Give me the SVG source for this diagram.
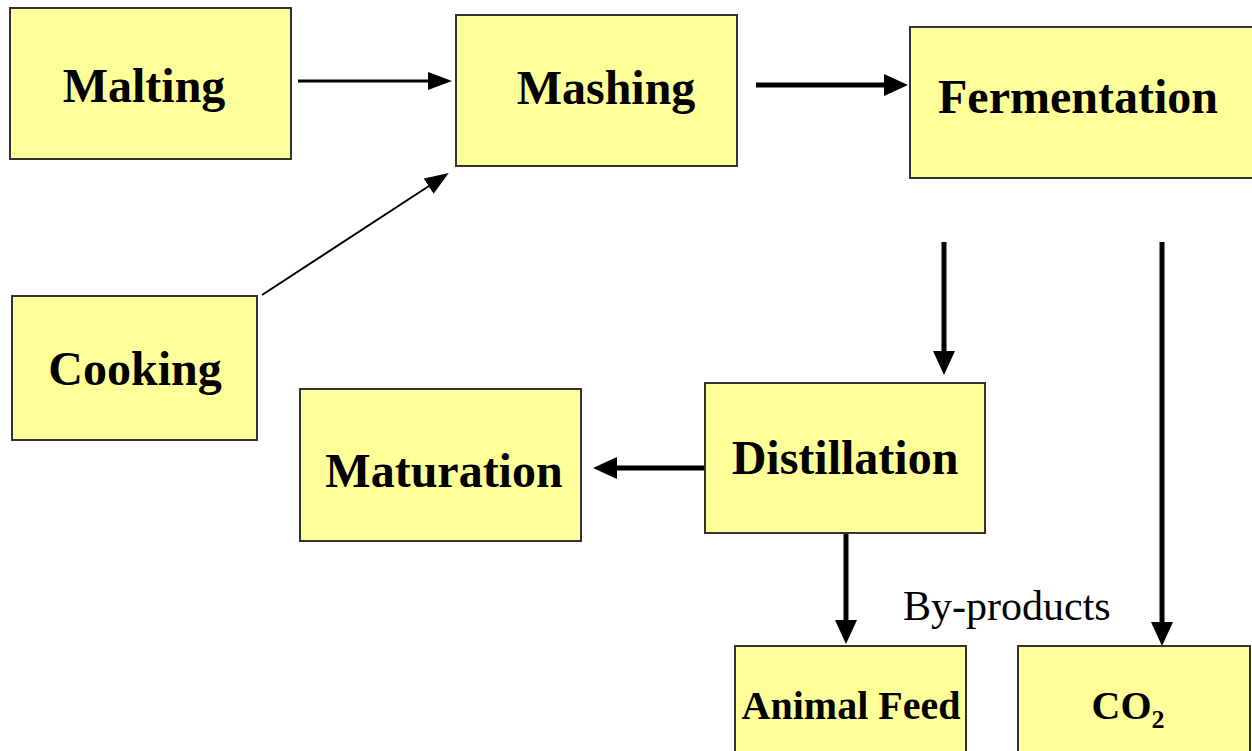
<svg xmlns="http://www.w3.org/2000/svg" width="1252" height="751" viewBox="0 0 1252 751">
  <style>
    .box { fill: #FFFF99; stroke: #333333; stroke-width: 2; }
    .lbl { font-family: "Liberation Serif", "Times New Roman", serif; font-weight: bold; font-size: 48px; fill: #000; text-anchor: middle; }
    .small { font-size: 40px; }
    .note { font-family: "Liberation Serif", "Times New Roman", serif; font-size: 42px; fill: #000; }
    .thin { stroke: #000; stroke-width: 3; fill: none; }
    .hair { stroke: #000; stroke-width: 2; fill: none; }
    .thick { stroke: #000; stroke-width: 5; fill: none; }
  </style>
  <defs>
    <marker id="headS" markerUnits="userSpaceOnUse" markerWidth="24" markerHeight="18" refX="4" refY="9" orient="auto">
      <path d="M0,0 L24,9 L0,18 z" fill="#000"/>
    </marker>
    <marker id="headL" markerUnits="userSpaceOnUse" markerWidth="24" markerHeight="22" refX="4" refY="11" orient="auto">
      <path d="M0,0 L24,11 L0,22 z" fill="#000"/>
    </marker>
  </defs>

  <rect width="1252" height="751" fill="#FFFFFF"/>

  <g id="connectors">
    <!-- Malting to Mashing -->
    <line class="thin" x1="298" y1="81" x2="432" y2="81" marker-end="url(#headS)"/>
    <!-- Mashing to Fermentation -->
    <line class="thick" x1="756" y1="85" x2="888" y2="85" marker-end="url(#headL)"/>
    <!-- Cooking to Mashing -->
    <line class="hair" x1="262" y1="295" x2="432" y2="184" marker-end="url(#headS)"/>
    <!-- Fermentation to Distillation -->
    <line class="thick" x1="944" y1="242" x2="944" y2="355" marker-end="url(#headL)"/>
    <!-- Fermentation to CO2 -->
    <line class="thick" x1="1162" y1="242" x2="1162" y2="626" marker-end="url(#headL)"/>
    <!-- Distillation to Maturation -->
    <line class="thick" x1="704" y1="468" x2="613" y2="468" marker-end="url(#headL)"/>
    <!-- Distillation to Animal Feed -->
    <line class="thick" x1="846" y1="533" x2="846" y2="624" marker-end="url(#headL)"/>
  </g>

  <g id="malting">
    <rect class="box" x="10" y="8" width="281" height="151"/>
    <text class="lbl" x="144" y="102">Malting</text>
  </g>
  <g id="mashing">
    <rect class="box" x="456" y="15" width="281" height="151"/>
    <text class="lbl" x="606" y="104">Mashing</text>
  </g>
  <g id="fermentation">
    <rect class="box" x="910" y="27" width="350" height="151"/>
    <text class="lbl" x="1078" y="113">Fermentation</text>
  </g>
  <g id="cooking">
    <rect class="box" x="12" y="296" width="245" height="144"/>
    <text class="lbl" x="135" y="385">Cooking</text>
  </g>
  <g id="maturation">
    <rect class="box" x="300" y="389" width="281" height="152"/>
    <text class="lbl" x="444" y="487">Maturation</text>
  </g>
  <g id="distillation">
    <rect class="box" x="705" y="383" width="280" height="150"/>
    <text class="lbl" x="845" y="474">Distillation</text>
  </g>
  <g id="animal-feed">
    <rect class="box" x="735" y="646" width="231" height="120"/>
    <text class="lbl small" x="851" y="719">Animal Feed</text>
  </g>
  <g id="co2">
    <rect class="box" x="1018" y="646" width="232" height="120"/>
    <text class="lbl small" x="1128" y="719">CO<tspan font-size="26" dy="9">2</tspan></text>
  </g>
  <g id="by-products">
    <text class="note" x="903" y="620">By-products</text>
  </g>
</svg>
